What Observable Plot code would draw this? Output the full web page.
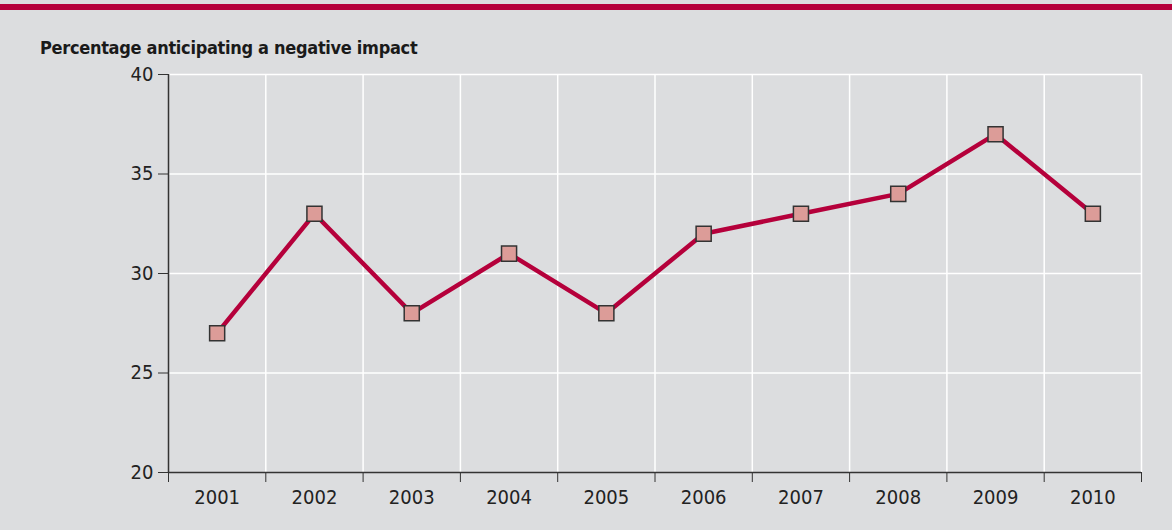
<!DOCTYPE html>
<html>
<head>
<meta charset="utf-8">
<script src="https://cdn.jsdelivr.net/npm/d3@7"></script>
<script src="https://cdn.jsdelivr.net/npm/@observablehq/plot@0.6"></script>
<style>
  html, body { margin: 0; padding: 0; }
  #wrap { position: relative; width: 1172px; height: 530px; background: #dcdddf; overflow: hidden;
          font-family: "Liberation Sans Narrow", "DejaVu Sans Condensed", sans-serif; }
  #bar { position: absolute; left: 0; top: 4px; width: 1172px; height: 6px; background: #b5003b; }
  #title { position: absolute; left: 40px; top: 37px; font-size: 18px; font-weight: bold; color: #1a1a1a; white-space: nowrap; letter-spacing: -0.3px; }
  #chart { position: absolute; left: 0; top: 60px; }
</style>
</head>
<body>
<div id="wrap">
  <div id="bar"></div>
  <div id="title">Percentage anticipating a negative impact</div>
  <div id="chart"></div>
</div>
<script>
const years = [2001, 2002, 2003, 2004, 2005, 2006, 2007, 2008, 2009, 2010];
const values = [27, 33, 28, 31, 28, 32, 33, 34, 37, 33];
const yTicks = [20, 25, 30, 35, 40];

const data = years.map((y, i) => ({year: y, value: values[i]}));
const boundaries = [...years.map(y => y - 0.5), years[years.length - 1] + 0.5];

const chart = Plot.plot({
  width: 1172,
  height: 470,
  marginLeft: 168,
  marginRight: 31,
  marginTop: 14,
  marginBottom: 58,
  style: {background: "transparent", fontFamily: "\"Liberation Sans Narrow\", \"DejaVu Sans Condensed\", sans-serif", fontSize: "20px", color: "#222"},
  x: {domain: [boundaries[0], boundaries[boundaries.length - 1]], axis: null, label: null},
  y: {domain: [20, 40], axis: null, label: null},
  marks: [
    Plot.gridY(yTicks.slice(1), {stroke: "#ffffff", strokeOpacity: 1, strokeWidth: 1.5}),
    Plot.gridX(boundaries.slice(1), {stroke: "#ffffff", strokeOpacity: 1, strokeWidth: 1.5}),
    Plot.axisY({ticks: yTicks, tickSize: 10, tickPadding: 5, stroke: "#333", label: null, tickFormat: d => String(d)}),
    Plot.axisX({ticks: boundaries, tickSize: 10, tickFormat: () => "", stroke: "#333", label: null}),
    Plot.axisX({ticks: years, tickSize: 0, tickPadding: 17, label: null, tickFormat: d => String(d)}),
    Plot.ruleX([boundaries[0]], {y1: 20, y2: 40, stroke: "#333", strokeWidth: 1.5}),
    Plot.ruleY([20], {stroke: "#333", strokeWidth: 1.5}),
    Plot.line(data, {x: "year", y: "value", stroke: "#b5003b", strokeWidth: 4.5}),
    Plot.dot(data, {x: "year", y: "value", symbol: "square", r: 8.5, fill: "#dc9c98", stroke: "#333", strokeWidth: 1.5})
  ]
});
document.getElementById("chart").appendChild(chart);
</script>
</body>
</html>
